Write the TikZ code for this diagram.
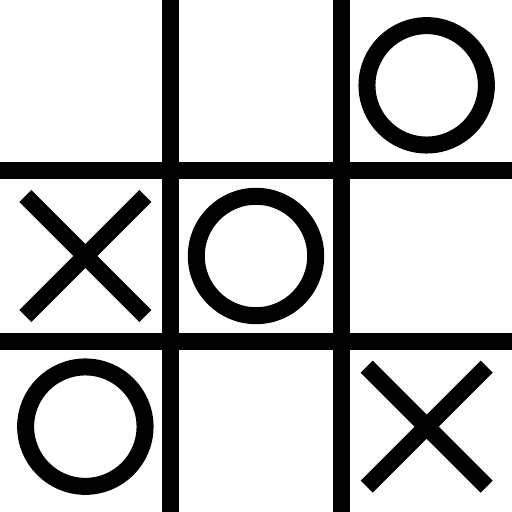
\documentclass[tikz,border=0pt]{standalone}
\usetikzlibrary{positioning,shapes.misc}

\begin{document}
\begin{tikzpicture}[x=0.5pt,y=0.5pt]
    \tikzstyle{every node}=[inner sep=0pt,outer sep=0pt]
    \tikzstyle{gridline}=[line width=8.4pt]
    \tikzstyle{nought}=[draw,shape=circle,line width=8.5pt,minimum size=59.7pt]
    \tikzstyle{cross}=[draw,shape=cross out,line width=8.5pt,minimum size=60pt]

    \useasboundingbox (0,0) rectangle (512,512);

    % board
    \draw[gridline] (170.67,0) -- (170.67,512) (341.33,0) -- (341.33,512);
    \draw[gridline] (0,170.67) -- (512,170.67) (0,341.33) -- (512,341.33);

    % marks
    \begin{scope}[node distance=85.33pt and 85.33pt,on grid]
    \node[nought] at (256,256) (mid) {};
    \node[cross, left=of mid] (midleft) {};
    \node[nought, above right=of mid] (topright) {};
    \node[nought, below left=of mid] (botleft) {};
    \node[cross, below right=of mid] (botright) {};
    \end{scope}
\end{tikzpicture}
\end{document}
